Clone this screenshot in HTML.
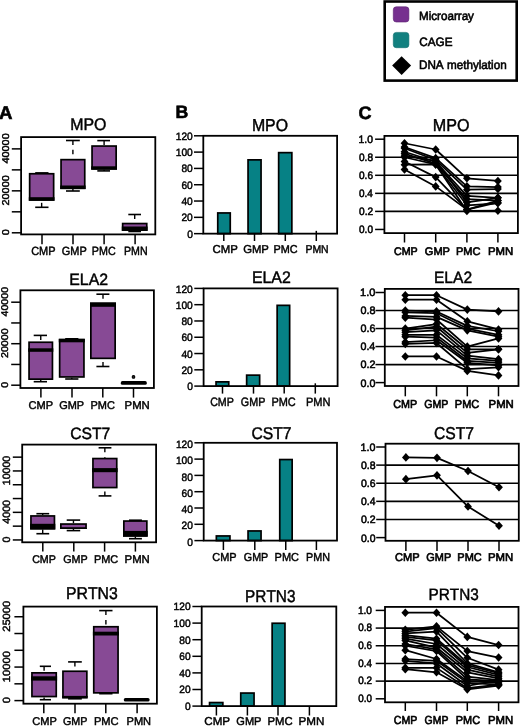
<!DOCTYPE html>
<html><head><meta charset="utf-8"><title>Figure</title>
<style>
html,body{margin:0;padding:0;background:#fff;}
body{width:520px;height:726px;overflow:hidden;}
svg{display:block;}
text{font-family:"Liberation Sans",sans-serif;font-kerning:none;stroke:#000;stroke-width:0.45px;}
.t{filter:grayscale(1);}
</style></head><body>
<svg width="520" height="726" viewBox="0 0 520 726" text-rendering="geometricPrecision">
<rect x="0" y="0" width="520" height="726" fill="#fff"/>
<rect x="384.7" y="1.5" width="132" height="79.1" fill="none" stroke="#000" stroke-width="2.6"/>
<rect x="393.3" y="6.8" width="15.6" height="15.2" rx="3" fill="#76308f" stroke="#5a2070" stroke-width="0.6"/>
<rect x="393.3" y="32.4" width="15.6" height="15.3" rx="3" fill="#12807f" stroke="#0b6b6b" stroke-width="0.6"/>
<path d="M401.6 56.2L411.1 65.6L401.6 75L392.1 65.6Z" fill="#000"/>
<line x1="35.2" y1="172.9" x2="48.5" y2="172.9" stroke="#000" stroke-width="1.6"/>
<line x1="41.65" y1="207.3" x2="41.65" y2="200.8" stroke="#000" stroke-width="1.4" stroke-dasharray="4.5,4.8"/>
<line x1="35.2" y1="207.3" x2="48.5" y2="207.3" stroke="#000" stroke-width="1.6"/>
<rect x="29.65" y="173.75" width="24" height="26.2" fill="#874a95" stroke="#000" stroke-width="1.7"/>
<rect x="28.8" y="197.2" width="25.7" height="3.6" fill="#000"/>
<line x1="72.9" y1="140.5" x2="72.9" y2="158.8" stroke="#000" stroke-width="1.4" stroke-dasharray="4.5,4.8"/>
<line x1="66" y1="140.5" x2="79.8" y2="140.5" stroke="#000" stroke-width="1.6"/>
<line x1="72.9" y1="191" x2="72.9" y2="189.1" stroke="#000" stroke-width="1.4" stroke-dasharray="4.5,4.8"/>
<line x1="66" y1="191" x2="79.8" y2="191" stroke="#000" stroke-width="1.6"/>
<rect x="61.05" y="159.65" width="23.7" height="28.6" fill="#874a95" stroke="#000" stroke-width="1.7"/>
<rect x="60.2" y="185.5" width="25.4" height="3.6" fill="#000"/>
<line x1="104.1" y1="140.6" x2="104.1" y2="145.2" stroke="#000" stroke-width="1.4" stroke-dasharray="4.5,4.8"/>
<line x1="97.3" y1="140.6" x2="110" y2="140.6" stroke="#000" stroke-width="1.6"/>
<line x1="104.1" y1="170.9" x2="104.1" y2="169.7" stroke="#000" stroke-width="1.4" stroke-dasharray="4.5,4.8"/>
<line x1="97.3" y1="170.9" x2="110" y2="170.9" stroke="#000" stroke-width="1.6"/>
<rect x="92.05" y="146.05" width="24.1" height="22.8" fill="#874a95" stroke="#000" stroke-width="1.7"/>
<rect x="91.2" y="166.3" width="25.8" height="3.4" fill="#000"/>
<line x1="134.7" y1="214.5" x2="134.7" y2="222.7" stroke="#000" stroke-width="1.4" stroke-dasharray="4.5,4.8"/>
<line x1="128.3" y1="214.5" x2="141" y2="214.5" stroke="#000" stroke-width="1.6"/>
<line x1="134.7" y1="231.5" x2="134.7" y2="230.9" stroke="#000" stroke-width="1.4" stroke-dasharray="4.5,4.8"/>
<line x1="128.3" y1="231.5" x2="141" y2="231.5" stroke="#000" stroke-width="1.6"/>
<rect x="122.65" y="223.55" width="24.1" height="6.5" fill="#874a95" stroke="#000" stroke-width="1.7"/>
<rect x="121.8" y="226.5" width="25.8" height="4.4" fill="#000"/>
<rect x="21.1" y="137.1" width="134.2" height="97.3" fill="none" stroke="#000" stroke-width="1.8"/>
<line x1="11.8" y1="232.8" x2="21.1" y2="232.8" stroke="#000" stroke-width="1.5"/>
<line x1="11.8" y1="211.82" x2="21.1" y2="211.82" stroke="#000" stroke-width="1.5"/>
<line x1="11.8" y1="190.84" x2="21.1" y2="190.84" stroke="#000" stroke-width="1.5"/>
<line x1="11.8" y1="169.86" x2="21.1" y2="169.86" stroke="#000" stroke-width="1.5"/>
<line x1="11.8" y1="148.88" x2="21.1" y2="148.88" stroke="#000" stroke-width="1.5"/>
<line x1="42" y1="234.4" x2="42" y2="244.3" stroke="#000" stroke-width="1.5"/>
<line x1="73" y1="234.4" x2="73" y2="244.3" stroke="#000" stroke-width="1.5"/>
<line x1="104.1" y1="234.4" x2="104.1" y2="244.3" stroke="#000" stroke-width="1.5"/>
<line x1="135.1" y1="234.4" x2="135.1" y2="244.3" stroke="#000" stroke-width="1.5"/>
<line x1="40.75" y1="335.4" x2="40.75" y2="341.4" stroke="#000" stroke-width="1.4" stroke-dasharray="4.5,4.8"/>
<line x1="33.7" y1="335.4" x2="47" y2="335.4" stroke="#000" stroke-width="1.6"/>
<line x1="40.75" y1="381.7" x2="40.75" y2="380" stroke="#000" stroke-width="1.4" stroke-dasharray="4.5,4.8"/>
<line x1="33.7" y1="381.7" x2="47" y2="381.7" stroke="#000" stroke-width="1.6"/>
<rect x="29.05" y="342.25" width="23.4" height="36.9" fill="#874a95" stroke="#000" stroke-width="1.7"/>
<rect x="28.2" y="348.3" width="25.1" height="3.5" fill="#000"/>
<line x1="65.2" y1="338.8" x2="78.4" y2="338.8" stroke="#000" stroke-width="1.6"/>
<line x1="71.8" y1="379" x2="71.8" y2="377.8" stroke="#000" stroke-width="1.4" stroke-dasharray="4.5,4.8"/>
<line x1="65.2" y1="379" x2="78.4" y2="379" stroke="#000" stroke-width="1.6"/>
<rect x="59.65" y="339.65" width="24.3" height="37.3" fill="#874a95" stroke="#000" stroke-width="1.7"/>
<rect x="58.8" y="338.8" width="26" height="3.5" fill="#000"/>
<line x1="103" y1="294.2" x2="103" y2="302.5" stroke="#000" stroke-width="1.4" stroke-dasharray="4.5,4.8"/>
<line x1="96.4" y1="294.2" x2="109.4" y2="294.2" stroke="#000" stroke-width="1.6"/>
<line x1="103" y1="366.5" x2="103" y2="359.2" stroke="#000" stroke-width="1.4" stroke-dasharray="4.5,4.8"/>
<line x1="96.4" y1="366.5" x2="109.4" y2="366.5" stroke="#000" stroke-width="1.6"/>
<rect x="90.85" y="303.35" width="24.3" height="55" fill="#874a95" stroke="#000" stroke-width="1.7"/>
<rect x="90" y="302.5" width="26" height="4.3" fill="#000"/>
<rect x="120.8" y="381.1" width="26" height="3.7" rx="1.6" fill="#000"/>
<rect x="20.4" y="290.3" width="133.5" height="97.7" fill="none" stroke="#000" stroke-width="1.8"/>
<line x1="11.2" y1="385.2" x2="20.4" y2="385.2" stroke="#000" stroke-width="1.5"/>
<line x1="11.2" y1="364.45" x2="20.4" y2="364.45" stroke="#000" stroke-width="1.5"/>
<line x1="11.2" y1="343.7" x2="20.4" y2="343.7" stroke="#000" stroke-width="1.5"/>
<line x1="11.2" y1="322.95" x2="20.4" y2="322.95" stroke="#000" stroke-width="1.5"/>
<line x1="11.2" y1="302.2" x2="20.4" y2="302.2" stroke="#000" stroke-width="1.5"/>
<line x1="40.9" y1="388" x2="40.9" y2="397.6" stroke="#000" stroke-width="1.5"/>
<line x1="72" y1="388" x2="72" y2="397.6" stroke="#000" stroke-width="1.5"/>
<line x1="102.8" y1="388" x2="102.8" y2="397.6" stroke="#000" stroke-width="1.5"/>
<line x1="133.5" y1="388" x2="133.5" y2="397.6" stroke="#000" stroke-width="1.5"/>
<line x1="42.7" y1="513.7" x2="42.7" y2="515.1" stroke="#000" stroke-width="1.4" stroke-dasharray="4.5,4.8"/>
<line x1="36.4" y1="513.7" x2="49.2" y2="513.7" stroke="#000" stroke-width="1.6"/>
<line x1="42.7" y1="533.7" x2="42.7" y2="529.5" stroke="#000" stroke-width="1.4" stroke-dasharray="4.5,4.8"/>
<line x1="36.4" y1="533.7" x2="49.2" y2="533.7" stroke="#000" stroke-width="1.6"/>
<rect x="30.95" y="515.95" width="23.5" height="12.7" fill="#874a95" stroke="#000" stroke-width="1.7"/>
<rect x="30.1" y="523.8" width="25.2" height="5.7" fill="#000"/>
<line x1="73.45" y1="520.1" x2="73.45" y2="523.2" stroke="#000" stroke-width="1.4" stroke-dasharray="4.5,4.8"/>
<line x1="66.7" y1="520.1" x2="80.2" y2="520.1" stroke="#000" stroke-width="1.6"/>
<line x1="73.45" y1="530.6" x2="73.45" y2="528.9" stroke="#000" stroke-width="1.4" stroke-dasharray="4.5,4.8"/>
<line x1="66.7" y1="530.6" x2="80.2" y2="530.6" stroke="#000" stroke-width="1.6"/>
<rect x="60.85" y="524.05" width="25.2" height="4" fill="#874a95" stroke="#000" stroke-width="1.7"/>
<rect x="60" y="528" width="26.9" height="0.9" fill="#000"/>
<line x1="104.85" y1="447.8" x2="104.85" y2="457.7" stroke="#000" stroke-width="1.4" stroke-dasharray="4.5,4.8"/>
<line x1="98.6" y1="447.8" x2="111.4" y2="447.8" stroke="#000" stroke-width="1.6"/>
<line x1="104.85" y1="495.9" x2="104.85" y2="488.4" stroke="#000" stroke-width="1.4" stroke-dasharray="4.5,4.8"/>
<line x1="98.6" y1="495.9" x2="111.4" y2="495.9" stroke="#000" stroke-width="1.6"/>
<rect x="92.95" y="458.55" width="23.8" height="29" fill="#874a95" stroke="#000" stroke-width="1.7"/>
<rect x="92.1" y="468.1" width="25.5" height="4.1" fill="#000"/>
<line x1="129" y1="520.2" x2="141.9" y2="520.2" stroke="#000" stroke-width="1.6"/>
<line x1="135.35" y1="538.7" x2="135.35" y2="536.7" stroke="#000" stroke-width="1.4" stroke-dasharray="4.5,4.8"/>
<line x1="129" y1="538.7" x2="141.9" y2="538.7" stroke="#000" stroke-width="1.6"/>
<rect x="123.85" y="521.05" width="23" height="14.8" fill="#874a95" stroke="#000" stroke-width="1.7"/>
<rect x="123" y="530.9" width="24.7" height="5.8" fill="#000"/>
<rect x="22.2" y="444.6" width="133.9" height="97.7" fill="none" stroke="#000" stroke-width="1.8"/>
<line x1="12.8" y1="539.95" x2="22.2" y2="539.95" stroke="#000" stroke-width="1.5"/>
<line x1="12.8" y1="526.15" x2="22.2" y2="526.15" stroke="#000" stroke-width="1.5"/>
<line x1="12.8" y1="512.35" x2="22.2" y2="512.35" stroke="#000" stroke-width="1.5"/>
<line x1="12.8" y1="498.55" x2="22.2" y2="498.55" stroke="#000" stroke-width="1.5"/>
<line x1="12.8" y1="484.75" x2="22.2" y2="484.75" stroke="#000" stroke-width="1.5"/>
<line x1="12.8" y1="470.95" x2="22.2" y2="470.95" stroke="#000" stroke-width="1.5"/>
<line x1="12.8" y1="457.15" x2="22.2" y2="457.15" stroke="#000" stroke-width="1.5"/>
<line x1="42.8" y1="542.3" x2="42.8" y2="551.6" stroke="#000" stroke-width="1.5"/>
<line x1="73.8" y1="542.3" x2="73.8" y2="551.6" stroke="#000" stroke-width="1.5"/>
<line x1="104.6" y1="542.3" x2="104.6" y2="551.6" stroke="#000" stroke-width="1.5"/>
<line x1="135.4" y1="542.3" x2="135.4" y2="551.6" stroke="#000" stroke-width="1.5"/>
<line x1="44.1" y1="666.3" x2="44.1" y2="672" stroke="#000" stroke-width="1.4" stroke-dasharray="4.5,4.8"/>
<line x1="39.8" y1="666.3" x2="51" y2="666.3" stroke="#000" stroke-width="1.6"/>
<line x1="44.1" y1="699.7" x2="44.1" y2="697.4" stroke="#000" stroke-width="1.4" stroke-dasharray="4.5,4.8"/>
<line x1="39.8" y1="699.7" x2="51" y2="699.7" stroke="#000" stroke-width="1.6"/>
<rect x="31.95" y="672.85" width="24.3" height="23.7" fill="#874a95" stroke="#000" stroke-width="1.7"/>
<rect x="31.1" y="676.3" width="26" height="4.3" fill="#000"/>
<line x1="74.9" y1="661.9" x2="74.9" y2="670.4" stroke="#000" stroke-width="1.4" stroke-dasharray="4.5,4.8"/>
<line x1="68.1" y1="661.9" x2="81.8" y2="661.9" stroke="#000" stroke-width="1.6"/>
<line x1="74.9" y1="698.8" x2="74.9" y2="697.7" stroke="#000" stroke-width="1.4" stroke-dasharray="4.5,4.8"/>
<line x1="68.1" y1="698.8" x2="81.8" y2="698.8" stroke="#000" stroke-width="1.6"/>
<rect x="62.95" y="671.25" width="23.9" height="25.6" fill="#874a95" stroke="#000" stroke-width="1.7"/>
<rect x="62.1" y="695.9" width="25.6" height="2.7" fill="#000"/>
<line x1="105.9" y1="610.6" x2="105.9" y2="625.9" stroke="#000" stroke-width="1.4" stroke-dasharray="4.5,4.8"/>
<line x1="99.2" y1="610.6" x2="112.5" y2="610.6" stroke="#000" stroke-width="1.6"/>
<line x1="99.2" y1="693.7" x2="112.5" y2="693.7" stroke="#000" stroke-width="1.6"/>
<rect x="93.75" y="626.75" width="24.3" height="66.1" fill="#874a95" stroke="#000" stroke-width="1.7"/>
<rect x="92.9" y="631.7" width="26" height="3.8" fill="#000"/>
<rect x="123.8" y="697.9" width="25.8" height="3.6" rx="1.6" fill="#000"/>
<rect x="23.4" y="606.6" width="133.5" height="97.1" fill="none" stroke="#000" stroke-width="1.8"/>
<line x1="14.4" y1="700.6" x2="23.4" y2="700.6" stroke="#000" stroke-width="1.5"/>
<line x1="14.4" y1="683.83" x2="23.4" y2="683.83" stroke="#000" stroke-width="1.5"/>
<line x1="14.4" y1="667.06" x2="23.4" y2="667.06" stroke="#000" stroke-width="1.5"/>
<line x1="14.4" y1="650.29" x2="23.4" y2="650.29" stroke="#000" stroke-width="1.5"/>
<line x1="14.4" y1="633.52" x2="23.4" y2="633.52" stroke="#000" stroke-width="1.5"/>
<line x1="14.4" y1="616.75" x2="23.4" y2="616.75" stroke="#000" stroke-width="1.5"/>
<line x1="43.8" y1="703.7" x2="43.8" y2="713.2" stroke="#000" stroke-width="1.5"/>
<line x1="75" y1="703.7" x2="75" y2="713.2" stroke="#000" stroke-width="1.5"/>
<line x1="105.8" y1="703.7" x2="105.8" y2="713.2" stroke="#000" stroke-width="1.5"/>
<line x1="137.1" y1="703.7" x2="137.1" y2="713.2" stroke="#000" stroke-width="1.5"/>
<circle cx="133.5" cy="376.9" r="1.3" fill="#333" stroke="#000" stroke-width="1.1"/>
<rect x="217.75" y="212.95" width="12.5" height="20.7" fill="#068185" stroke="#000" stroke-width="1.7"/>
<rect x="248.05" y="159.85" width="13" height="73.8" fill="#068185" stroke="#000" stroke-width="1.7"/>
<rect x="278.65" y="152.65" width="13.2" height="81" fill="#068185" stroke="#000" stroke-width="1.7"/>
<rect x="203.3" y="135.8" width="133.8" height="97.85" fill="none" stroke="#000" stroke-width="1.8"/>
<line x1="316.3" y1="230.85" x2="316.3" y2="233.65" stroke="#000" stroke-width="1.5"/>
<line x1="194" y1="233.65" x2="203.3" y2="233.65" stroke="#000" stroke-width="1.5"/>
<line x1="194" y1="217.34" x2="203.3" y2="217.34" stroke="#000" stroke-width="1.5"/>
<line x1="194" y1="201.03" x2="203.3" y2="201.03" stroke="#000" stroke-width="1.5"/>
<line x1="194" y1="184.73" x2="203.3" y2="184.73" stroke="#000" stroke-width="1.5"/>
<line x1="194" y1="168.42" x2="203.3" y2="168.42" stroke="#000" stroke-width="1.5"/>
<line x1="194" y1="152.11" x2="203.3" y2="152.11" stroke="#000" stroke-width="1.5"/>
<line x1="194" y1="135.8" x2="203.3" y2="135.8" stroke="#000" stroke-width="1.5"/>
<line x1="223.8" y1="233.65" x2="223.8" y2="241" stroke="#000" stroke-width="1.5"/>
<line x1="254.5" y1="233.65" x2="254.5" y2="241" stroke="#000" stroke-width="1.5"/>
<line x1="285.3" y1="233.65" x2="285.3" y2="241" stroke="#000" stroke-width="1.5"/>
<line x1="316.3" y1="233.65" x2="316.3" y2="241" stroke="#000" stroke-width="1.5"/>
<rect x="216.05" y="381.85" width="12.7" height="4.25" fill="#068185" stroke="#000" stroke-width="1.7"/>
<rect x="246.65" y="375.15" width="13" height="10.95" fill="#068185" stroke="#000" stroke-width="1.7"/>
<rect x="277.15" y="305.35" width="12.5" height="80.75" fill="#068185" stroke="#000" stroke-width="1.7"/>
<rect x="203.6" y="288.4" width="134" height="97.7" fill="none" stroke="#000" stroke-width="1.8"/>
<line x1="315.3" y1="383.3" x2="315.3" y2="386.1" stroke="#000" stroke-width="1.5"/>
<line x1="194.3" y1="386.1" x2="203.6" y2="386.1" stroke="#000" stroke-width="1.5"/>
<line x1="194.3" y1="369.82" x2="203.6" y2="369.82" stroke="#000" stroke-width="1.5"/>
<line x1="194.3" y1="353.53" x2="203.6" y2="353.53" stroke="#000" stroke-width="1.5"/>
<line x1="194.3" y1="337.25" x2="203.6" y2="337.25" stroke="#000" stroke-width="1.5"/>
<line x1="194.3" y1="320.97" x2="203.6" y2="320.97" stroke="#000" stroke-width="1.5"/>
<line x1="194.3" y1="304.68" x2="203.6" y2="304.68" stroke="#000" stroke-width="1.5"/>
<line x1="194.3" y1="288.4" x2="203.6" y2="288.4" stroke="#000" stroke-width="1.5"/>
<line x1="222.5" y1="386.1" x2="222.5" y2="393.6" stroke="#000" stroke-width="1.5"/>
<line x1="253.5" y1="386.1" x2="253.5" y2="393.6" stroke="#000" stroke-width="1.5"/>
<line x1="284.2" y1="386.1" x2="284.2" y2="393.6" stroke="#000" stroke-width="1.5"/>
<line x1="315.3" y1="386.1" x2="315.3" y2="393.6" stroke="#000" stroke-width="1.5"/>
<rect x="216.35" y="535.95" width="13.6" height="4.65" fill="#068185" stroke="#000" stroke-width="1.7"/>
<rect x="248.05" y="530.95" width="13" height="9.65" fill="#068185" stroke="#000" stroke-width="1.7"/>
<rect x="279.75" y="459.55" width="12.4" height="81.05" fill="#068185" stroke="#000" stroke-width="1.7"/>
<rect x="203.7" y="442.8" width="133.3" height="97.8" fill="none" stroke="#000" stroke-width="1.8"/>
<line x1="194.4" y1="540.6" x2="203.7" y2="540.6" stroke="#000" stroke-width="1.5"/>
<line x1="194.4" y1="524.3" x2="203.7" y2="524.3" stroke="#000" stroke-width="1.5"/>
<line x1="194.4" y1="508" x2="203.7" y2="508" stroke="#000" stroke-width="1.5"/>
<line x1="194.4" y1="491.7" x2="203.7" y2="491.7" stroke="#000" stroke-width="1.5"/>
<line x1="194.4" y1="475.4" x2="203.7" y2="475.4" stroke="#000" stroke-width="1.5"/>
<line x1="194.4" y1="459.1" x2="203.7" y2="459.1" stroke="#000" stroke-width="1.5"/>
<line x1="194.4" y1="442.8" x2="203.7" y2="442.8" stroke="#000" stroke-width="1.5"/>
<line x1="223.4" y1="540.6" x2="223.4" y2="550" stroke="#000" stroke-width="1.5"/>
<line x1="254.8" y1="540.6" x2="254.8" y2="550" stroke="#000" stroke-width="1.5"/>
<line x1="285.75" y1="540.6" x2="285.75" y2="550" stroke="#000" stroke-width="1.5"/>
<line x1="316.4" y1="540.6" x2="316.4" y2="550" stroke="#000" stroke-width="1.5"/>
<rect x="209.55" y="702.55" width="13.3" height="3.55" fill="#068185" stroke="#000" stroke-width="1.7"/>
<rect x="240.75" y="693.05" width="13.3" height="13.05" fill="#068185" stroke="#000" stroke-width="1.7"/>
<rect x="272.15" y="623.25" width="12.8" height="82.85" fill="#068185" stroke="#000" stroke-width="1.7"/>
<rect x="201.7" y="606.5" width="134.6" height="99.6" fill="none" stroke="#000" stroke-width="1.8"/>
<line x1="192.4" y1="706.1" x2="201.7" y2="706.1" stroke="#000" stroke-width="1.5"/>
<line x1="192.4" y1="689.5" x2="201.7" y2="689.5" stroke="#000" stroke-width="1.5"/>
<line x1="192.4" y1="672.9" x2="201.7" y2="672.9" stroke="#000" stroke-width="1.5"/>
<line x1="192.4" y1="656.3" x2="201.7" y2="656.3" stroke="#000" stroke-width="1.5"/>
<line x1="192.4" y1="639.7" x2="201.7" y2="639.7" stroke="#000" stroke-width="1.5"/>
<line x1="192.4" y1="623.1" x2="201.7" y2="623.1" stroke="#000" stroke-width="1.5"/>
<line x1="192.4" y1="606.5" x2="201.7" y2="606.5" stroke="#000" stroke-width="1.5"/>
<line x1="216.4" y1="706.1" x2="216.4" y2="715.5" stroke="#000" stroke-width="1.5"/>
<line x1="247.4" y1="706.1" x2="247.4" y2="715.5" stroke="#000" stroke-width="1.5"/>
<line x1="278" y1="706.1" x2="278" y2="715.5" stroke="#000" stroke-width="1.5"/>
<line x1="309.4" y1="706.1" x2="309.4" y2="715.5" stroke="#000" stroke-width="1.5"/>
<line x1="384.4" y1="211.4" x2="517.9" y2="211.4" stroke="#000" stroke-width="1.6"/>
<line x1="384.4" y1="193.35" x2="517.9" y2="193.35" stroke="#000" stroke-width="1.6"/>
<line x1="384.4" y1="175.3" x2="517.9" y2="175.3" stroke="#000" stroke-width="1.6"/>
<line x1="384.4" y1="157.25" x2="517.9" y2="157.25" stroke="#000" stroke-width="1.6"/>
<rect x="384.4" y="135.9" width="133.5" height="97.2" fill="none" stroke="#000" stroke-width="1.8"/>
<line x1="375.1" y1="229.45" x2="384.4" y2="229.45" stroke="#000" stroke-width="1.5"/>
<line x1="375.1" y1="211.4" x2="384.4" y2="211.4" stroke="#000" stroke-width="1.5"/>
<line x1="375.1" y1="193.35" x2="384.4" y2="193.35" stroke="#000" stroke-width="1.5"/>
<line x1="375.1" y1="175.3" x2="384.4" y2="175.3" stroke="#000" stroke-width="1.5"/>
<line x1="375.1" y1="157.25" x2="384.4" y2="157.25" stroke="#000" stroke-width="1.5"/>
<line x1="375.1" y1="139.2" x2="384.4" y2="139.2" stroke="#000" stroke-width="1.5"/>
<line x1="404.5" y1="233.1" x2="404.5" y2="242.5" stroke="#000" stroke-width="1.5"/>
<line x1="435.7" y1="233.1" x2="435.7" y2="242.5" stroke="#000" stroke-width="1.5"/>
<line x1="466.9" y1="233.1" x2="466.9" y2="242.5" stroke="#000" stroke-width="1.5"/>
<line x1="497.9" y1="233.1" x2="497.9" y2="242.5" stroke="#000" stroke-width="1.5"/>
<polyline points="404.5,143.26 435.7,149.49 466.9,178.28 497.9,180.99" fill="none" stroke="#000" stroke-width="1.75" stroke-linejoin="round"/>
<polyline points="404.5,147.05 435.7,158.15 466.9,186.31 497.9,187.03" fill="none" stroke="#000" stroke-width="1.75" stroke-linejoin="round"/>
<polyline points="404.5,148.22 435.7,159.96 466.9,189.74 497.9,189.02" fill="none" stroke="#000" stroke-width="1.75" stroke-linejoin="round"/>
<polyline points="404.5,151.74 435.7,161.76 466.9,195.88 497.9,197.86" fill="none" stroke="#000" stroke-width="1.75" stroke-linejoin="round"/>
<polyline points="404.5,153.64 435.7,163.57 466.9,199.13 497.9,200.57" fill="none" stroke="#000" stroke-width="1.75" stroke-linejoin="round"/>
<polyline points="404.5,155.99 435.7,160.86 466.9,202.38 497.9,197.86" fill="none" stroke="#000" stroke-width="1.75" stroke-linejoin="round"/>
<polyline points="404.5,157.25 435.7,164.47 466.9,205.26 497.9,203.28" fill="none" stroke="#000" stroke-width="1.75" stroke-linejoin="round"/>
<polyline points="404.5,161.49 435.7,177.1 466.9,209.59 497.9,200.57" fill="none" stroke="#000" stroke-width="1.75" stroke-linejoin="round"/>
<polyline points="404.5,164.74 435.7,164.47 466.9,210.95 497.9,210.68" fill="none" stroke="#000" stroke-width="1.75" stroke-linejoin="round"/>
<polyline points="404.5,169.52 435.7,186.4 466.9,209.59 497.9,202.38" fill="none" stroke="#000" stroke-width="1.75" stroke-linejoin="round"/>
<g fill="#000">
<path d="M404.5 138.96L408.4 143.26L404.5 147.56L400.6 143.26Z"/>
<path d="M435.7 145.19L439.6 149.49L435.7 153.79L431.8 149.49Z"/>
<path d="M466.9 173.98L470.8 178.28L466.9 182.58L463 178.28Z"/>
<path d="M497.9 176.69L501.8 180.99L497.9 185.29L494 180.99Z"/>
<path d="M404.5 142.75L408.4 147.05L404.5 151.35L400.6 147.05Z"/>
<path d="M435.7 153.85L439.6 158.15L435.7 162.45L431.8 158.15Z"/>
<path d="M466.9 182.01L470.8 186.31L466.9 190.61L463 186.31Z"/>
<path d="M497.9 182.73L501.8 187.03L497.9 191.33L494 187.03Z"/>
<path d="M404.5 143.92L408.4 148.22L404.5 152.52L400.6 148.22Z"/>
<path d="M435.7 155.66L439.6 159.96L435.7 164.26L431.8 159.96Z"/>
<path d="M466.9 185.44L470.8 189.74L466.9 194.04L463 189.74Z"/>
<path d="M497.9 184.72L501.8 189.02L497.9 193.32L494 189.02Z"/>
<path d="M404.5 147.44L408.4 151.74L404.5 156.04L400.6 151.74Z"/>
<path d="M435.7 157.46L439.6 161.76L435.7 166.06L431.8 161.76Z"/>
<path d="M466.9 191.58L470.8 195.88L466.9 200.18L463 195.88Z"/>
<path d="M497.9 193.56L501.8 197.86L497.9 202.16L494 197.86Z"/>
<path d="M404.5 149.34L408.4 153.64L404.5 157.94L400.6 153.64Z"/>
<path d="M435.7 159.27L439.6 163.57L435.7 167.87L431.8 163.57Z"/>
<path d="M466.9 194.83L470.8 199.13L466.9 203.43L463 199.13Z"/>
<path d="M497.9 196.27L501.8 200.57L497.9 204.87L494 200.57Z"/>
<path d="M404.5 151.69L408.4 155.99L404.5 160.29L400.6 155.99Z"/>
<path d="M435.7 156.56L439.6 160.86L435.7 165.16L431.8 160.86Z"/>
<path d="M466.9 198.07L470.8 202.38L466.9 206.68L463 202.38Z"/>
<path d="M497.9 193.56L501.8 197.86L497.9 202.16L494 197.86Z"/>
<path d="M404.5 152.95L408.4 157.25L404.5 161.55L400.6 157.25Z"/>
<path d="M435.7 160.17L439.6 164.47L435.7 168.77L431.8 164.47Z"/>
<path d="M466.9 200.96L470.8 205.26L466.9 209.56L463 205.26Z"/>
<path d="M497.9 198.98L501.8 203.28L497.9 207.58L494 203.28Z"/>
<path d="M404.5 157.19L408.4 161.49L404.5 165.79L400.6 161.49Z"/>
<path d="M435.7 172.8L439.6 177.1L435.7 181.41L431.8 177.1Z"/>
<path d="M466.9 205.29L470.8 209.59L466.9 213.9L463 209.59Z"/>
<path d="M497.9 196.27L501.8 200.57L497.9 204.87L494 200.57Z"/>
<path d="M404.5 160.44L408.4 164.74L404.5 169.04L400.6 164.74Z"/>
<path d="M435.7 160.17L439.6 164.47L435.7 168.77L431.8 164.47Z"/>
<path d="M466.9 206.65L470.8 210.95L466.9 215.25L463 210.95Z"/>
<path d="M497.9 206.38L501.8 210.68L497.9 214.98L494 210.68Z"/>
<path d="M404.5 165.22L408.4 169.52L404.5 173.82L400.6 169.52Z"/>
<path d="M435.7 182.1L439.6 186.4L435.7 190.7L431.8 186.4Z"/>
<path d="M466.9 205.29L470.8 209.59L466.9 213.9L463 209.59Z"/>
<path d="M497.9 198.07L501.8 202.38L497.9 206.68L494 202.38Z"/>
</g>
<line x1="384.8" y1="364.58" x2="518.5" y2="364.58" stroke="#000" stroke-width="1.6"/>
<line x1="384.8" y1="346.56" x2="518.5" y2="346.56" stroke="#000" stroke-width="1.6"/>
<line x1="384.8" y1="328.54" x2="518.5" y2="328.54" stroke="#000" stroke-width="1.6"/>
<line x1="384.8" y1="310.52" x2="518.5" y2="310.52" stroke="#000" stroke-width="1.6"/>
<rect x="384.8" y="288.9" width="133.7" height="97.1" fill="none" stroke="#000" stroke-width="1.8"/>
<line x1="375.5" y1="382.6" x2="384.8" y2="382.6" stroke="#000" stroke-width="1.5"/>
<line x1="375.5" y1="364.58" x2="384.8" y2="364.58" stroke="#000" stroke-width="1.5"/>
<line x1="375.5" y1="346.56" x2="384.8" y2="346.56" stroke="#000" stroke-width="1.5"/>
<line x1="375.5" y1="328.54" x2="384.8" y2="328.54" stroke="#000" stroke-width="1.5"/>
<line x1="375.5" y1="310.52" x2="384.8" y2="310.52" stroke="#000" stroke-width="1.5"/>
<line x1="375.5" y1="292.5" x2="384.8" y2="292.5" stroke="#000" stroke-width="1.5"/>
<line x1="405.3" y1="386" x2="405.3" y2="396.3" stroke="#000" stroke-width="1.5"/>
<line x1="436.5" y1="386" x2="436.5" y2="396.3" stroke="#000" stroke-width="1.5"/>
<line x1="467.3" y1="386" x2="467.3" y2="396.3" stroke="#000" stroke-width="1.5"/>
<line x1="498.5" y1="386" x2="498.5" y2="396.3" stroke="#000" stroke-width="1.5"/>
<polyline points="405.3,295.2 436.5,295.2 467.3,309.62 498.5,311.42" fill="none" stroke="#000" stroke-width="1.75" stroke-linejoin="round"/>
<polyline points="405.3,299.71 436.5,299.71 467.3,321.33 498.5,329.44" fill="none" stroke="#000" stroke-width="1.75" stroke-linejoin="round"/>
<polyline points="405.3,310.52 436.5,311.42 467.3,325.84 498.5,331.24" fill="none" stroke="#000" stroke-width="1.75" stroke-linejoin="round"/>
<polyline points="405.3,312.32 436.5,313.22 467.3,328.54 498.5,334.85" fill="none" stroke="#000" stroke-width="1.75" stroke-linejoin="round"/>
<polyline points="405.3,315.93 436.5,316.83 467.3,330.34 498.5,336.65" fill="none" stroke="#000" stroke-width="1.75" stroke-linejoin="round"/>
<polyline points="405.3,317.73 436.5,319.53 467.3,346.56 498.5,338.45" fill="none" stroke="#000" stroke-width="1.75" stroke-linejoin="round"/>
<polyline points="405.3,328.54 436.5,324.04 467.3,349.26 498.5,349.26" fill="none" stroke="#000" stroke-width="1.75" stroke-linejoin="round"/>
<polyline points="405.3,330.34 436.5,326.74 467.3,352.87 498.5,349.26" fill="none" stroke="#000" stroke-width="1.75" stroke-linejoin="round"/>
<polyline points="405.3,332.14 436.5,330.34 467.3,355.57 498.5,359.17" fill="none" stroke="#000" stroke-width="1.75" stroke-linejoin="round"/>
<polyline points="405.3,334.85 436.5,334.85 467.3,358.27 498.5,360.98" fill="none" stroke="#000" stroke-width="1.75" stroke-linejoin="round"/>
<polyline points="405.3,336.65 436.5,337.55 467.3,360.98 498.5,362.78" fill="none" stroke="#000" stroke-width="1.75" stroke-linejoin="round"/>
<polyline points="405.3,342.06 436.5,340.25 467.3,362.78 498.5,365.48" fill="none" stroke="#000" stroke-width="1.75" stroke-linejoin="round"/>
<polyline points="405.3,343.86 436.5,342.96 467.3,369.09 498.5,367.28" fill="none" stroke="#000" stroke-width="1.75" stroke-linejoin="round"/>
<polyline points="405.3,356.47 436.5,356.47 467.3,370.89 498.5,375.39" fill="none" stroke="#000" stroke-width="1.75" stroke-linejoin="round"/>
<g fill="#000">
<path d="M405.3 290.9L409.2 295.2L405.3 299.5L401.4 295.2Z"/>
<path d="M436.5 290.9L440.4 295.2L436.5 299.5L432.6 295.2Z"/>
<path d="M467.3 305.32L471.2 309.62L467.3 313.92L463.4 309.62Z"/>
<path d="M498.5 307.12L502.4 311.42L498.5 315.72L494.6 311.42Z"/>
<path d="M405.3 295.41L409.2 299.71L405.3 304.01L401.4 299.71Z"/>
<path d="M436.5 295.41L440.4 299.71L436.5 304.01L432.6 299.71Z"/>
<path d="M467.3 317.03L471.2 321.33L467.3 325.63L463.4 321.33Z"/>
<path d="M498.5 325.14L502.4 329.44L498.5 333.74L494.6 329.44Z"/>
<path d="M405.3 306.22L409.2 310.52L405.3 314.82L401.4 310.52Z"/>
<path d="M436.5 307.12L440.4 311.42L436.5 315.72L432.6 311.42Z"/>
<path d="M467.3 321.54L471.2 325.84L467.3 330.14L463.4 325.84Z"/>
<path d="M498.5 326.94L502.4 331.24L498.5 335.54L494.6 331.24Z"/>
<path d="M405.3 308.02L409.2 312.32L405.3 316.62L401.4 312.32Z"/>
<path d="M436.5 308.92L440.4 313.22L436.5 317.52L432.6 313.22Z"/>
<path d="M467.3 324.24L471.2 328.54L467.3 332.84L463.4 328.54Z"/>
<path d="M498.5 330.55L502.4 334.85L498.5 339.15L494.6 334.85Z"/>
<path d="M405.3 311.63L409.2 315.93L405.3 320.23L401.4 315.93Z"/>
<path d="M436.5 312.53L440.4 316.83L436.5 321.13L432.6 316.83Z"/>
<path d="M467.3 326.04L471.2 330.34L467.3 334.64L463.4 330.34Z"/>
<path d="M498.5 332.35L502.4 336.65L498.5 340.95L494.6 336.65Z"/>
<path d="M405.3 313.43L409.2 317.73L405.3 322.03L401.4 317.73Z"/>
<path d="M436.5 315.23L440.4 319.53L436.5 323.83L432.6 319.53Z"/>
<path d="M467.3 342.26L471.2 346.56L467.3 350.86L463.4 346.56Z"/>
<path d="M498.5 334.15L502.4 338.45L498.5 342.75L494.6 338.45Z"/>
<path d="M405.3 324.24L409.2 328.54L405.3 332.84L401.4 328.54Z"/>
<path d="M436.5 319.74L440.4 324.04L436.5 328.34L432.6 324.04Z"/>
<path d="M467.3 344.96L471.2 349.26L467.3 353.56L463.4 349.26Z"/>
<path d="M498.5 344.96L502.4 349.26L498.5 353.56L494.6 349.26Z"/>
<path d="M405.3 326.04L409.2 330.34L405.3 334.64L401.4 330.34Z"/>
<path d="M436.5 322.44L440.4 326.74L436.5 331.04L432.6 326.74Z"/>
<path d="M467.3 348.57L471.2 352.87L467.3 357.17L463.4 352.87Z"/>
<path d="M498.5 344.96L502.4 349.26L498.5 353.56L494.6 349.26Z"/>
<path d="M405.3 327.84L409.2 332.14L405.3 336.44L401.4 332.14Z"/>
<path d="M436.5 326.04L440.4 330.34L436.5 334.64L432.6 330.34Z"/>
<path d="M467.3 351.27L471.2 355.57L467.3 359.87L463.4 355.57Z"/>
<path d="M498.5 354.87L502.4 359.17L498.5 363.47L494.6 359.17Z"/>
<path d="M405.3 330.55L409.2 334.85L405.3 339.15L401.4 334.85Z"/>
<path d="M436.5 330.55L440.4 334.85L436.5 339.15L432.6 334.85Z"/>
<path d="M467.3 353.97L471.2 358.27L467.3 362.57L463.4 358.27Z"/>
<path d="M498.5 356.68L502.4 360.98L498.5 365.28L494.6 360.98Z"/>
<path d="M405.3 332.35L409.2 336.65L405.3 340.95L401.4 336.65Z"/>
<path d="M436.5 333.25L440.4 337.55L436.5 341.85L432.6 337.55Z"/>
<path d="M467.3 356.68L471.2 360.98L467.3 365.28L463.4 360.98Z"/>
<path d="M498.5 358.48L502.4 362.78L498.5 367.08L494.6 362.78Z"/>
<path d="M405.3 337.75L409.2 342.06L405.3 346.36L401.4 342.06Z"/>
<path d="M436.5 335.95L440.4 340.25L436.5 344.55L432.6 340.25Z"/>
<path d="M467.3 358.48L471.2 362.78L467.3 367.08L463.4 362.78Z"/>
<path d="M498.5 361.18L502.4 365.48L498.5 369.78L494.6 365.48Z"/>
<path d="M405.3 339.56L409.2 343.86L405.3 348.16L401.4 343.86Z"/>
<path d="M436.5 338.66L440.4 342.96L436.5 347.26L432.6 342.96Z"/>
<path d="M467.3 364.79L471.2 369.09L467.3 373.39L463.4 369.09Z"/>
<path d="M498.5 362.98L502.4 367.28L498.5 371.58L494.6 367.28Z"/>
<path d="M405.3 352.17L409.2 356.47L405.3 360.77L401.4 356.47Z"/>
<path d="M436.5 352.17L440.4 356.47L436.5 360.77L432.6 356.47Z"/>
<path d="M467.3 366.59L471.2 370.89L467.3 375.19L463.4 370.89Z"/>
<path d="M498.5 371.09L502.4 375.39L498.5 379.69L494.6 375.39Z"/>
</g>
<line x1="385.5" y1="519.48" x2="518.8" y2="519.48" stroke="#000" stroke-width="1.6"/>
<line x1="385.5" y1="501.36" x2="518.8" y2="501.36" stroke="#000" stroke-width="1.6"/>
<line x1="385.5" y1="483.24" x2="518.8" y2="483.24" stroke="#000" stroke-width="1.6"/>
<line x1="385.5" y1="465.12" x2="518.8" y2="465.12" stroke="#000" stroke-width="1.6"/>
<rect x="385.5" y="443.7" width="133.3" height="97.1" fill="none" stroke="#000" stroke-width="1.8"/>
<line x1="376.2" y1="537.6" x2="385.5" y2="537.6" stroke="#000" stroke-width="1.5"/>
<line x1="376.2" y1="519.48" x2="385.5" y2="519.48" stroke="#000" stroke-width="1.5"/>
<line x1="376.2" y1="501.36" x2="385.5" y2="501.36" stroke="#000" stroke-width="1.5"/>
<line x1="376.2" y1="483.24" x2="385.5" y2="483.24" stroke="#000" stroke-width="1.5"/>
<line x1="376.2" y1="465.12" x2="385.5" y2="465.12" stroke="#000" stroke-width="1.5"/>
<line x1="376.2" y1="447" x2="385.5" y2="447" stroke="#000" stroke-width="1.5"/>
<line x1="405.9" y1="540.8" x2="405.9" y2="551" stroke="#000" stroke-width="1.5"/>
<line x1="437" y1="540.8" x2="437" y2="551" stroke="#000" stroke-width="1.5"/>
<line x1="468" y1="540.8" x2="468" y2="551" stroke="#000" stroke-width="1.5"/>
<line x1="499" y1="540.8" x2="499" y2="551" stroke="#000" stroke-width="1.5"/>
<polyline points="405.9,457.42 437,457.87 468,471.01 499,487.32" fill="none" stroke="#000" stroke-width="1.75" stroke-linejoin="round"/>
<polyline points="405.9,479.16 437,475.36 468,506.52 499,525.82" fill="none" stroke="#000" stroke-width="1.75" stroke-linejoin="round"/>
<g fill="#000">
<path d="M405.9 453.12L409.8 457.42L405.9 461.72L402 457.42Z"/>
<path d="M437 453.57L440.9 457.87L437 462.17L433.1 457.87Z"/>
<path d="M468 466.71L471.9 471.01L468 475.31L464.1 471.01Z"/>
<path d="M499 483.02L502.9 487.32L499 491.62L495.1 487.32Z"/>
<path d="M405.9 474.86L409.8 479.16L405.9 483.46L402 479.16Z"/>
<path d="M437 471.06L440.9 475.36L437 479.66L433.1 475.36Z"/>
<path d="M468 502.22L471.9 506.52L468 510.82L464.1 506.52Z"/>
<path d="M499 521.52L502.9 525.82L499 530.12L495.1 525.82Z"/>
</g>
<line x1="385" y1="681.12" x2="518.5" y2="681.12" stroke="#000" stroke-width="1.6"/>
<line x1="385" y1="663.44" x2="518.5" y2="663.44" stroke="#000" stroke-width="1.6"/>
<line x1="385" y1="645.76" x2="518.5" y2="645.76" stroke="#000" stroke-width="1.6"/>
<line x1="385" y1="628.08" x2="518.5" y2="628.08" stroke="#000" stroke-width="1.6"/>
<rect x="385" y="606.9" width="133.5" height="95.4" fill="none" stroke="#000" stroke-width="1.8"/>
<line x1="375.7" y1="698.8" x2="385" y2="698.8" stroke="#000" stroke-width="1.5"/>
<line x1="375.7" y1="681.12" x2="385" y2="681.12" stroke="#000" stroke-width="1.5"/>
<line x1="375.7" y1="663.44" x2="385" y2="663.44" stroke="#000" stroke-width="1.5"/>
<line x1="375.7" y1="645.76" x2="385" y2="645.76" stroke="#000" stroke-width="1.5"/>
<line x1="375.7" y1="628.08" x2="385" y2="628.08" stroke="#000" stroke-width="1.5"/>
<line x1="375.7" y1="610.4" x2="385" y2="610.4" stroke="#000" stroke-width="1.5"/>
<line x1="405.3" y1="702.3" x2="405.3" y2="711" stroke="#000" stroke-width="1.5"/>
<line x1="436.5" y1="702.3" x2="436.5" y2="711" stroke="#000" stroke-width="1.5"/>
<line x1="467.3" y1="702.3" x2="467.3" y2="711" stroke="#000" stroke-width="1.5"/>
<line x1="498.6" y1="702.3" x2="498.6" y2="711" stroke="#000" stroke-width="1.5"/>
<polyline points="405.3,612.7 436.5,612.7 467.3,636.92 498.6,645.05" fill="none" stroke="#000" stroke-width="1.75" stroke-linejoin="round"/>
<polyline points="405.3,629.85 436.5,626.31 467.3,651.06 498.6,657.52" fill="none" stroke="#000" stroke-width="1.75" stroke-linejoin="round"/>
<polyline points="405.3,631.62 436.5,628.08 467.3,657.78 498.6,669.63" fill="none" stroke="#000" stroke-width="1.75" stroke-linejoin="round"/>
<polyline points="405.3,633.38 436.5,631.62 467.3,663.44 498.6,672.28" fill="none" stroke="#000" stroke-width="1.75" stroke-linejoin="round"/>
<polyline points="405.3,635.15 436.5,638.69 467.3,665.21 498.6,673.16" fill="none" stroke="#000" stroke-width="1.75" stroke-linejoin="round"/>
<polyline points="405.3,636.92 436.5,640.46 467.3,666.98 498.6,674.93" fill="none" stroke="#000" stroke-width="1.75" stroke-linejoin="round"/>
<polyline points="405.3,638.69 436.5,643.99 467.3,669.63 498.6,676.7" fill="none" stroke="#000" stroke-width="1.75" stroke-linejoin="round"/>
<polyline points="405.3,640.46 436.5,647.53 467.3,672.28 498.6,678.47" fill="none" stroke="#000" stroke-width="1.75" stroke-linejoin="round"/>
<polyline points="405.3,643.99 436.5,649.3 467.3,676.7 498.6,680.24" fill="none" stroke="#000" stroke-width="1.75" stroke-linejoin="round"/>
<polyline points="405.3,645.76 436.5,651.06 467.3,679.35 498.6,681.12" fill="none" stroke="#000" stroke-width="1.75" stroke-linejoin="round"/>
<polyline points="405.3,650.18 436.5,659.02 467.3,681.12 498.6,682.89" fill="none" stroke="#000" stroke-width="1.75" stroke-linejoin="round"/>
<polyline points="405.3,659.02 436.5,660.79 467.3,682.89 498.6,684.66" fill="none" stroke="#000" stroke-width="1.75" stroke-linejoin="round"/>
<polyline points="405.3,660.79 436.5,663.44 467.3,685.98 498.6,680.24" fill="none" stroke="#000" stroke-width="1.75" stroke-linejoin="round"/>
<polyline points="405.3,667.86 436.5,667.86 467.3,688.19 498.6,684.66" fill="none" stroke="#000" stroke-width="1.75" stroke-linejoin="round"/>
<polyline points="405.3,669.19 436.5,672.28 467.3,689.34 498.6,685.54" fill="none" stroke="#000" stroke-width="1.75" stroke-linejoin="round"/>
<g fill="#000">
<path d="M405.3 608.4L409.2 612.7L405.3 617L401.4 612.7Z"/>
<path d="M436.5 608.4L440.4 612.7L436.5 617L432.6 612.7Z"/>
<path d="M467.3 632.62L471.2 636.92L467.3 641.22L463.4 636.92Z"/>
<path d="M498.6 640.75L502.5 645.05L498.6 649.35L494.7 645.05Z"/>
<path d="M405.3 625.55L409.2 629.85L405.3 634.15L401.4 629.85Z"/>
<path d="M436.5 622.01L440.4 626.31L436.5 630.61L432.6 626.31Z"/>
<path d="M467.3 646.76L471.2 651.06L467.3 655.36L463.4 651.06Z"/>
<path d="M498.6 653.22L502.5 657.52L498.6 661.82L494.7 657.52Z"/>
<path d="M405.3 627.32L409.2 631.62L405.3 635.92L401.4 631.62Z"/>
<path d="M436.5 623.78L440.4 628.08L436.5 632.38L432.6 628.08Z"/>
<path d="M467.3 653.48L471.2 657.78L467.3 662.08L463.4 657.78Z"/>
<path d="M498.6 665.33L502.5 669.63L498.6 673.93L494.7 669.63Z"/>
<path d="M405.3 629.08L409.2 633.38L405.3 637.68L401.4 633.38Z"/>
<path d="M436.5 627.32L440.4 631.62L436.5 635.92L432.6 631.62Z"/>
<path d="M467.3 659.14L471.2 663.44L467.3 667.74L463.4 663.44Z"/>
<path d="M498.6 667.98L502.5 672.28L498.6 676.58L494.7 672.28Z"/>
<path d="M405.3 630.85L409.2 635.15L405.3 639.45L401.4 635.15Z"/>
<path d="M436.5 634.39L440.4 638.69L436.5 642.99L432.6 638.69Z"/>
<path d="M467.3 660.91L471.2 665.21L467.3 669.51L463.4 665.21Z"/>
<path d="M498.6 668.86L502.5 673.16L498.6 677.46L494.7 673.16Z"/>
<path d="M405.3 632.62L409.2 636.92L405.3 641.22L401.4 636.92Z"/>
<path d="M436.5 636.16L440.4 640.46L436.5 644.76L432.6 640.46Z"/>
<path d="M467.3 662.68L471.2 666.98L467.3 671.28L463.4 666.98Z"/>
<path d="M498.6 670.63L502.5 674.93L498.6 679.23L494.7 674.93Z"/>
<path d="M405.3 634.39L409.2 638.69L405.3 642.99L401.4 638.69Z"/>
<path d="M436.5 639.69L440.4 643.99L436.5 648.29L432.6 643.99Z"/>
<path d="M467.3 665.33L471.2 669.63L467.3 673.93L463.4 669.63Z"/>
<path d="M498.6 672.4L502.5 676.7L498.6 681L494.7 676.7Z"/>
<path d="M405.3 636.16L409.2 640.46L405.3 644.76L401.4 640.46Z"/>
<path d="M436.5 643.23L440.4 647.53L436.5 651.83L432.6 647.53Z"/>
<path d="M467.3 667.98L471.2 672.28L467.3 676.58L463.4 672.28Z"/>
<path d="M498.6 674.17L502.5 678.47L498.6 682.77L494.7 678.47Z"/>
<path d="M405.3 639.69L409.2 643.99L405.3 648.29L401.4 643.99Z"/>
<path d="M436.5 645L440.4 649.3L436.5 653.6L432.6 649.3Z"/>
<path d="M467.3 672.4L471.2 676.7L467.3 681L463.4 676.7Z"/>
<path d="M498.6 675.94L502.5 680.24L498.6 684.54L494.7 680.24Z"/>
<path d="M405.3 641.46L409.2 645.76L405.3 650.06L401.4 645.76Z"/>
<path d="M436.5 646.76L440.4 651.06L436.5 655.36L432.6 651.06Z"/>
<path d="M467.3 675.05L471.2 679.35L467.3 683.65L463.4 679.35Z"/>
<path d="M498.6 676.82L502.5 681.12L498.6 685.42L494.7 681.12Z"/>
<path d="M405.3 645.88L409.2 650.18L405.3 654.48L401.4 650.18Z"/>
<path d="M436.5 654.72L440.4 659.02L436.5 663.32L432.6 659.02Z"/>
<path d="M467.3 676.82L471.2 681.12L467.3 685.42L463.4 681.12Z"/>
<path d="M498.6 678.59L502.5 682.89L498.6 687.19L494.7 682.89Z"/>
<path d="M405.3 654.72L409.2 659.02L405.3 663.32L401.4 659.02Z"/>
<path d="M436.5 656.49L440.4 660.79L436.5 665.09L432.6 660.79Z"/>
<path d="M467.3 678.59L471.2 682.89L467.3 687.19L463.4 682.89Z"/>
<path d="M498.6 680.36L502.5 684.66L498.6 688.96L494.7 684.66Z"/>
<path d="M405.3 656.49L409.2 660.79L405.3 665.09L401.4 660.79Z"/>
<path d="M436.5 659.14L440.4 663.44L436.5 667.74L432.6 663.44Z"/>
<path d="M467.3 681.68L471.2 685.98L467.3 690.28L463.4 685.98Z"/>
<path d="M498.6 675.94L502.5 680.24L498.6 684.54L494.7 680.24Z"/>
<path d="M405.3 663.56L409.2 667.86L405.3 672.16L401.4 667.86Z"/>
<path d="M436.5 663.56L440.4 667.86L436.5 672.16L432.6 667.86Z"/>
<path d="M467.3 683.89L471.2 688.19L467.3 692.49L463.4 688.19Z"/>
<path d="M498.6 680.36L502.5 684.66L498.6 688.96L494.7 684.66Z"/>
<path d="M405.3 664.89L409.2 669.19L405.3 673.49L401.4 669.19Z"/>
<path d="M436.5 667.98L440.4 672.28L436.5 676.58L432.6 672.28Z"/>
<path d="M467.3 685.04L471.2 689.34L467.3 693.64L463.4 689.34Z"/>
<path d="M498.6 681.24L502.5 685.54L498.6 689.84L494.7 685.54Z"/>
</g>
<g class="t">
<text transform="translate(418.94,20) scale(0.9667,1)" font-size="12.06" style="stroke-width:0.6px">Microarray</text>
<text transform="translate(419.31,46) scale(0.9710,1)" font-size="12.06" style="stroke-width:0.6px">CAGE</text>
<text transform="translate(418.94,68.9) scale(0.9587,1)" font-size="12.21" style="stroke-width:0.6px">DNA methylation</text>
<text transform="translate(-1.06,118.5) scale(1.0173,1)" font-size="18.31" font-weight="bold" style="stroke-width:0.6px">A</text>
<text transform="translate(175.62,118.4) scale(0.9986,1)" font-size="17.73" font-weight="bold" style="stroke-width:0.6px">B</text>
<text transform="translate(358.56,118.52) scale(1.0062,1)" font-size="17.94" font-weight="bold" style="stroke-width:0.6px">C</text>
<text transform="translate(8.9,235.32) rotate(-90) scale(1.0984,1)" font-size="9.89">0</text>
<text transform="translate(8.9,205.44) rotate(-90) scale(1.0984,1)" font-size="9.89">20000</text>
<text transform="translate(8.9,163.48) rotate(-90) scale(1.0984,1)" font-size="9.89">40000</text>
<text transform="translate(31.19,255) scale(0.9250,1)" font-size="11.86">CMP</text>
<text transform="translate(61.85,255) scale(0.9224,1)" font-size="11.86">GMP</text>
<text transform="translate(91.82,255) scale(0.9062,1)" font-size="11.86">PMC</text>
<text transform="translate(124.03,255) scale(0.8967,1)" font-size="11.86">PMN</text>
<text transform="translate(70.19,130.44) scale(0.9473,1)" font-size="16.81">MPO</text>
<text transform="translate(8.1,387.66) rotate(-90) scale(1.0907,1)" font-size="9.75">0</text>
<text transform="translate(8.1,357.98) rotate(-90) scale(1.0907,1)" font-size="9.75">20000</text>
<text transform="translate(8.1,316.48) rotate(-90) scale(1.0907,1)" font-size="9.75">40000</text>
<text transform="translate(28.54,409) scale(0.9775,1)" font-size="11.3">CMP</text>
<text transform="translate(59.25,409) scale(0.9685,1)" font-size="11.3">GMP</text>
<text transform="translate(90.5,409) scale(0.9726,1)" font-size="11.3">PMC</text>
<text transform="translate(124.57,409) scale(1.0060,1)" font-size="11.3">PMN</text>
<text transform="translate(69.3,285.2) scale(0.9630,1)" font-size="16.47">ELA2</text>
<text transform="translate(9.7,542.4) rotate(-90) scale(1.0007,1)" font-size="10.59">0</text>
<text transform="translate(9.7,523.64) rotate(-90) scale(1.0007,1)" font-size="10.59">4000</text>
<text transform="translate(9.7,485.19) rotate(-90) scale(1.0007,1)" font-size="10.59">10000</text>
<text transform="translate(32.16,563) scale(0.9560,1)" font-size="11.16">CMP</text>
<text transform="translate(63.16,563) scale(0.9643,1)" font-size="11.16">GMP</text>
<text transform="translate(93.9,563) scale(0.9806,1)" font-size="11.16">PMC</text>
<text transform="translate(124.57,563) scale(1.0187,1)" font-size="11.16">PMN</text>
<text transform="translate(70.2,438.94) scale(0.9596,1)" font-size="16.38">CST7</text>
<text transform="translate(10.2,703.21) rotate(-90) scale(1.0716,1)" font-size="10.45">0</text>
<text transform="translate(10.2,682.13) rotate(-90) scale(1.0716,1)" font-size="10.45">10000</text>
<text transform="translate(10.2,631.82) rotate(-90) scale(1.0716,1)" font-size="10.45">25000</text>
<text transform="translate(32.24,725) scale(0.9775,1)" font-size="11.3">CMP</text>
<text transform="translate(62.96,725) scale(0.9522,1)" font-size="11.3">GMP</text>
<text transform="translate(93.89,725) scale(0.9852,1)" font-size="11.3">PMC</text>
<text transform="translate(126.49,725) scale(0.9802,1)" font-size="11.3">PMN</text>
<text transform="translate(65.9,599.33) scale(0.9340,1)" font-size="16.95">PRTN3</text>
<text transform="translate(187.13,237.7) scale(0.9500,1)" font-size="10.73">0</text>
<text transform="translate(181.46,221.39) scale(0.9500,1)" font-size="10.73">20</text>
<text transform="translate(181.46,205.08) scale(0.9500,1)" font-size="10.73">40</text>
<text transform="translate(181.46,188.77) scale(0.9500,1)" font-size="10.73">60</text>
<text transform="translate(181.46,172.46) scale(0.9500,1)" font-size="10.73">80</text>
<text transform="translate(175.78,156.15) scale(0.9500,1)" font-size="10.73">100</text>
<text transform="translate(175.78,139.85) scale(0.9500,1)" font-size="10.73">120</text>
<text transform="translate(212.62,253) scale(0.9943,1)" font-size="11.44">CMP</text>
<text transform="translate(243.13,253) scale(0.9887,1)" font-size="11.44">GMP</text>
<text transform="translate(273.41,253) scale(0.9481,1)" font-size="11.44">PMC</text>
<text transform="translate(305.44,253) scale(0.9129,1)" font-size="11.44">PMN</text>
<text transform="translate(251.9,130.58) scale(0.9176,1)" font-size="17.3">MPO</text>
<text transform="translate(187.13,390.2) scale(0.9500,1)" font-size="10.73">0</text>
<text transform="translate(181.46,373.91) scale(0.9500,1)" font-size="10.73">20</text>
<text transform="translate(181.46,357.63) scale(0.9500,1)" font-size="10.73">40</text>
<text transform="translate(181.46,341.35) scale(0.9500,1)" font-size="10.73">60</text>
<text transform="translate(181.46,325.06) scale(0.9500,1)" font-size="10.73">80</text>
<text transform="translate(175.78,308.78) scale(0.9500,1)" font-size="10.73">100</text>
<text transform="translate(175.78,292.5) scale(0.9500,1)" font-size="10.73">120</text>
<text transform="translate(210.16,406) scale(0.8782,1)" font-size="12.15">CMP</text>
<text transform="translate(240.86,406) scale(0.8858,1)" font-size="12.15">GMP</text>
<text transform="translate(271.4,406) scale(0.9008,1)" font-size="12.15">PMC</text>
<text transform="translate(305.9,406) scale(0.9078,1)" font-size="12.15">PMN</text>
<text transform="translate(251.9,283.3) scale(0.9573,1)" font-size="16.61">ELA2</text>
<text transform="translate(187.23,545.7) scale(0.9500,1)" font-size="10.73">0</text>
<text transform="translate(181.56,529.4) scale(0.9500,1)" font-size="10.73">20</text>
<text transform="translate(181.56,513.1) scale(0.9500,1)" font-size="10.73">40</text>
<text transform="translate(181.56,496.8) scale(0.9500,1)" font-size="10.73">60</text>
<text transform="translate(181.56,480.5) scale(0.9500,1)" font-size="10.73">80</text>
<text transform="translate(175.88,464.2) scale(0.9500,1)" font-size="10.73">100</text>
<text transform="translate(175.88,447.9) scale(0.9500,1)" font-size="10.73">120</text>
<text transform="translate(212.34,561) scale(0.9455,1)" font-size="11.58">CMP</text>
<text transform="translate(243.76,561) scale(0.9290,1)" font-size="11.58">GMP</text>
<text transform="translate(274.6,561) scale(0.9488,1)" font-size="11.58">PMC</text>
<text transform="translate(306.02,561) scale(0.9311,1)" font-size="11.58">PMN</text>
<text transform="translate(251.4,438.58) scale(0.9214,1)" font-size="17.02">CST7</text>
<text transform="translate(184.93,709.9) scale(0.9500,1)" font-size="10.73">0</text>
<text transform="translate(179.26,693.3) scale(0.9500,1)" font-size="10.73">20</text>
<text transform="translate(179.26,676.7) scale(0.9500,1)" font-size="10.73">40</text>
<text transform="translate(179.26,660.1) scale(0.9500,1)" font-size="10.73">60</text>
<text transform="translate(179.26,643.5) scale(0.9500,1)" font-size="10.73">80</text>
<text transform="translate(173.58,626.9) scale(0.9500,1)" font-size="10.73">100</text>
<text transform="translate(173.58,610.3) scale(0.9500,1)" font-size="10.73">120</text>
<text transform="translate(204.31,725) scale(1.0149,1)" font-size="11.44">CMP</text>
<text transform="translate(236.34,725) scale(0.9646,1)" font-size="11.44">GMP</text>
<text transform="translate(267.47,725) scale(0.9897,1)" font-size="11.44">PMC</text>
<text transform="translate(298.54,725) scale(1.0190,1)" font-size="11.44">PMN</text>
<text transform="translate(245.04,601.73) scale(0.9002,1)" font-size="17.09">PRTN3</text>
<text transform="translate(359.01,233.35) scale(0.9373,1)" font-size="10.73" style="stroke-width:0.55px">0.0</text>
<text transform="translate(359,215.3) scale(0.9454,1)" font-size="10.73" style="stroke-width:0.55px">0.2</text>
<text transform="translate(359.01,197.25) scale(0.9303,1)" font-size="10.73" style="stroke-width:0.55px">0.4</text>
<text transform="translate(359.01,179.2) scale(0.9408,1)" font-size="10.73" style="stroke-width:0.55px">0.6</text>
<text transform="translate(359.01,161.15) scale(0.9404,1)" font-size="10.73" style="stroke-width:0.55px">0.8</text>
<text transform="translate(358.61,143.1) scale(0.9645,1)" font-size="10.73" style="stroke-width:0.55px">1.0</text>
<text transform="translate(393.96,255) scale(0.9683,1)" font-size="11.02" style="stroke-width:0.65px">CMP</text>
<text transform="translate(424.84,255) scale(1.0017,1)" font-size="11.02" style="stroke-width:0.65px">GMP</text>
<text transform="translate(455.99,255) scale(1.0018,1)" font-size="11.02" style="stroke-width:0.65px">PMC</text>
<text transform="translate(487.97,255) scale(1.0318,1)" font-size="11.02" style="stroke-width:0.65px">PMN</text>
<text transform="translate(432.78,130.58) scale(0.9324,1)" font-size="17.3">MPO</text>
<text transform="translate(360.48,386.5) scale(1.0012,1)" font-size="10.73" style="stroke-width:0.55px">0.0</text>
<text transform="translate(360.48,368.48) scale(1.0098,1)" font-size="10.73" style="stroke-width:0.55px">0.2</text>
<text transform="translate(360.48,350.46) scale(0.9938,1)" font-size="10.73" style="stroke-width:0.55px">0.4</text>
<text transform="translate(360.48,332.44) scale(1.0049,1)" font-size="10.73" style="stroke-width:0.55px">0.6</text>
<text transform="translate(360.48,314.42) scale(1.0045,1)" font-size="10.73" style="stroke-width:0.55px">0.8</text>
<text transform="translate(360.06,296.4) scale(1.0303,1)" font-size="10.73" style="stroke-width:0.55px">1.0</text>
<text transform="translate(393.15,408) scale(0.9292,1)" font-size="11.58" style="stroke-width:0.65px">CMP</text>
<text transform="translate(424.17,408) scale(0.9171,1)" font-size="11.58" style="stroke-width:0.65px">GMP</text>
<text transform="translate(454.8,408) scale(0.9488,1)" font-size="11.58" style="stroke-width:0.65px">PMC</text>
<text transform="translate(488.57,408) scale(0.9815,1)" font-size="11.58" style="stroke-width:0.65px">PMN</text>
<text transform="translate(433.92,283.1) scale(0.9555,1)" font-size="16.33">ELA2</text>
<text transform="translate(360.99,541.6) scale(0.9728,1)" font-size="10.73" style="stroke-width:0.55px">0.0</text>
<text transform="translate(360.99,523.48) scale(0.9812,1)" font-size="10.73" style="stroke-width:0.55px">0.2</text>
<text transform="translate(361,505.36) scale(0.9656,1)" font-size="10.73" style="stroke-width:0.55px">0.4</text>
<text transform="translate(360.99,487.24) scale(0.9764,1)" font-size="10.73" style="stroke-width:0.55px">0.6</text>
<text transform="translate(360.99,469.12) scale(0.9760,1)" font-size="10.73" style="stroke-width:0.55px">0.8</text>
<text transform="translate(360.58,451) scale(1.0011,1)" font-size="10.73" style="stroke-width:0.55px">1.0</text>
<text transform="translate(395.04,561) scale(0.9775,1)" font-size="11.3" style="stroke-width:0.65px">CMP</text>
<text transform="translate(426.35,561) scale(0.9644,1)" font-size="11.3" style="stroke-width:0.65px">GMP</text>
<text transform="translate(457.3,561) scale(0.9726,1)" font-size="11.3" style="stroke-width:0.65px">PMC</text>
<text transform="translate(487.97,561) scale(1.0060,1)" font-size="11.3" style="stroke-width:0.65px">PMN</text>
<text transform="translate(433.9,438.83) scale(0.9176,1)" font-size="17.09">CST7</text>
<text transform="translate(358.32,701.9) scale(0.9160,1)" font-size="10.73" style="stroke-width:0.55px">0.0</text>
<text transform="translate(358.31,684.22) scale(0.9239,1)" font-size="10.73" style="stroke-width:0.55px">0.2</text>
<text transform="translate(358.32,666.54) scale(0.9092,1)" font-size="10.73" style="stroke-width:0.55px">0.4</text>
<text transform="translate(358.31,648.86) scale(0.9194,1)" font-size="10.73" style="stroke-width:0.55px">0.6</text>
<text transform="translate(358.31,631.18) scale(0.9190,1)" font-size="10.73" style="stroke-width:0.55px">0.8</text>
<text transform="translate(357.93,613.5) scale(0.9426,1)" font-size="10.73" style="stroke-width:0.55px">1.0</text>
<text transform="translate(393.76,724) scale(0.9170,1)" font-size="11.58" style="stroke-width:0.65px">CMP</text>
<text transform="translate(424.58,724) scale(0.9012,1)" font-size="11.58" style="stroke-width:0.65px">GMP</text>
<text transform="translate(455.8,724) scale(0.9447,1)" font-size="11.58" style="stroke-width:0.65px">PMC</text>
<text transform="translate(487.97,724) scale(0.9815,1)" font-size="11.58" style="stroke-width:0.65px">PMN</text>
<text transform="translate(428.54,599.94) scale(0.9291,1)" font-size="16.53">PRTN3</text>
</g>
</svg>
</body></html>
